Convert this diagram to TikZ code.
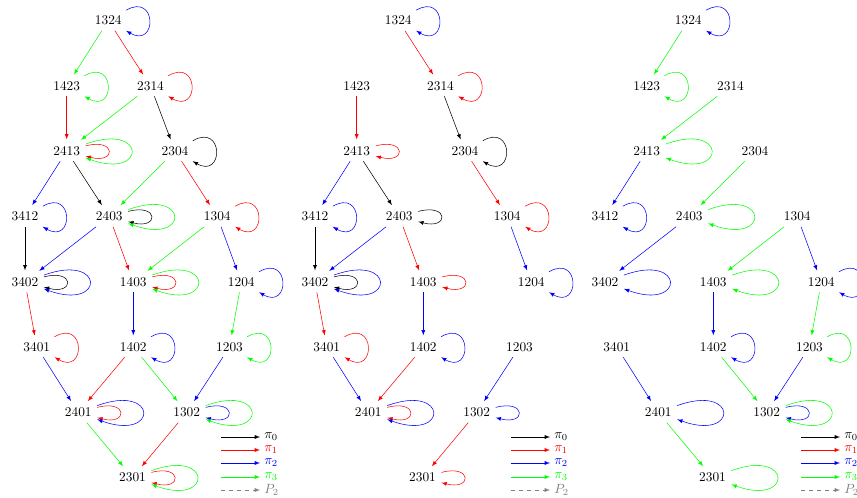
\documentclass[tikz,border=0pt]{standalone}
\usepackage{xcolor}
\usepackage{tikz}

\begin{document}
\begin{tikzpicture}[
  x=0.75pt, y=0.75pt,
  st/.style={inner sep=4pt},
  e/.style={-latex, shorten >=1pt},
  sloop/.style={-latex, out=30, in=-30, min distance=27pt, max distance=27pt},
  iloop/.style={-latex, out=15, in=-15, min distance=24pt, max distance=24pt},
  oloop/.style={-latex, out=20, in=-20, min distance=49pt, max distance=49pt},
  key/.style={anchor=west, inner sep=3pt}
]
\path[use as bounding box, clip] (0,0) rectangle (857,-498);
% states, same places in the three graphs
\foreach \p/\dx in {a/0,b/290,c/580}{
  \node[st] (\p1324) at (108.3+\dx,-20.5) {1324};
  \node[st] (\p1423) at (66.7+\dx,-86) {1423};
  \node[st] (\p2314) at (150.5+\dx,-86) {2314};
  \node[st] (\p2413) at (66.7+\dx,-151) {2413};
  \node[st] (\p2304) at (175+\dx,-151) {2304};
  \node[st] (\p3412) at (25+\dx,-216.5) {3412};
  \node[st] (\p2403) at (109.3+\dx,-216.5) {2403};
  \node[st] (\p1304) at (217.3+\dx,-216.5) {1304};
  \node[st] (\p3402) at (25+\dx,-282) {3402};
  \node[st] (\p1403) at (133.3+\dx,-282) {1403};
  \node[st] (\p1204) at (241.3+\dx,-282) {1204};
  \node[st] (\p3401) at (36.8+\dx,-347) {3401};
  \node[st] (\p1402) at (133.3+\dx,-347) {1402};
  \node[st] (\p1203) at (229.5+\dx,-347) {1203};
  \node[st] (\p2401) at (78.3+\dx,-412.5) {2401};
  \node[st] (\p1302) at (186.7+\dx,-412.5) {1302};
  \node[st] (\p2301) at (132.5+\dx,-477.5) {2301};
  % legend
  \coordinate (\p k0) at (221+\dx,-437);
  \coordinate (\p k1) at (221+\dx,-450);
  \coordinate (\p k2) at (221+\dx,-463);
  \coordinate (\p k3) at (221+\dx,-477);
  \coordinate (\p k4) at (221+\dx,-490);
  \node[key] (\p l0) at (260+\dx,-437) {$\pi_0$};
  \node[key, red] (\p l1) at (260+\dx,-450) {$\pi_1$};
  \node[key, blue] (\p l2) at (260+\dx,-463) {$\pi_2$};
  \node[key, green] (\p l3) at (260+\dx,-477) {$\pi_3$};
  \node[key, gray] (\p l4) at (260+\dx,-490) {$P_2$};
  \draw[-latex] (\p k0) -- (\p l0);
  \draw[-latex, red] (\p k1) -- (\p l1);
  \draw[-latex, blue] (\p k2) -- (\p l2);
  \draw[-latex, green] (\p k3) -- (\p l3);
  \draw[-latex, gray, dashed] (\p k4) -- (\p l4);
}

% first graph
\draw[e, green] (a1324) -- (a1423);
\draw[e, red] (a1324) -- (a2314);
\draw[e, red] (a1423) -- (a2413);
\draw[e, green] (a2314) -- (a2413);
\draw[e] (a2314) -- (a2304);
\draw[e, blue] (a2413) -- (a3412);
\draw[e] (a2413) -- (a2403);
\draw[e, green] (a2304) -- (a2403);
\draw[e, red] (a2304) -- (a1304);
\draw[e] (a3412) -- (a3402);
\draw[e, blue] (a2403) -- (a3402);
\draw[e, red] (a2403) -- (a1403);
\draw[e, green] (a1304) -- (a1403);
\draw[e, blue] (a1304) -- (a1204);
\draw[e, red] (a3402) -- (a3401);
\draw[e, blue] (a1403) -- (a1402);
\draw[e, green] (a1204) -- (a1203);
\draw[e, blue] (a3401) -- (a2401);
\draw[e, red] (a1402) -- (a2401);
\draw[e, green] (a1402) -- (a1302);
\draw[e, blue] (a1203) -- (a1302);
\draw[e, green] (a2401) -- (a2301);
\draw[e, red] (a1302) -- (a2301);
\draw[sloop, blue] (a1324) to (a1324);
\draw[sloop, green] (a1423) to (a1423);
\draw[sloop, red] (a2314) to (a2314);
\draw[sloop] (a2304) to (a2304);
\draw[sloop, blue] (a3412) to (a3412);
\draw[sloop, red] (a1304) to (a1304);
\draw[sloop, blue] (a1204) to (a1204);
\draw[sloop, red] (a3401) to (a3401);
\draw[sloop, blue] (a1402) to (a1402);
\draw[sloop, green] (a1203) to (a1203);
\draw[iloop, red] (a2413) to (a2413);
\draw[oloop, green] (a2413) to (a2413);
\draw[iloop] (a2403) to (a2403);
\draw[oloop, green] (a2403) to (a2403);
\draw[iloop] (a3402) to (a3402);
\draw[oloop, blue] (a3402) to (a3402);
\draw[iloop, red] (a1403) to (a1403);
\draw[oloop, green] (a1403) to (a1403);
\draw[iloop, red] (a2401) to (a2401);
\draw[oloop, blue] (a2401) to (a2401);
\draw[iloop, blue] (a1302) to (a1302);
\draw[oloop, green] (a1302) to (a1302);
\draw[iloop, red] (a2301) to (a2301);
\draw[oloop, green] (a2301) to (a2301);

% second graph
\draw[e, red] (b1324) -- (b2314);
\draw[e, red] (b1423) -- (b2413);
\draw[e] (b2314) -- (b2304);
\draw[e, blue] (b2413) -- (b3412);
\draw[e] (b2413) -- (b2403);
\draw[e, red] (b2304) -- (b1304);
\draw[e] (b3412) -- (b3402);
\draw[e, blue] (b2403) -- (b3402);
\draw[e, red] (b2403) -- (b1403);
\draw[e, blue] (b1304) -- (b1204);
\draw[e, red] (b3402) -- (b3401);
\draw[e, blue] (b1403) -- (b1402);
\draw[e, blue] (b3401) -- (b2401);
\draw[e, red] (b1402) -- (b2401);
\draw[e, blue] (b1203) -- (b1302);
\draw[e, red] (b1302) -- (b2301);
\draw[sloop, blue] (b1324) to (b1324);
\draw[sloop, red] (b2314) to (b2314);
\draw[sloop] (b2304) to (b2304);
\draw[sloop, blue] (b3412) to (b3412);
\draw[sloop, red] (b1304) to (b1304);
\draw[sloop, blue] (b1204) to (b1204);
\draw[sloop, red] (b3401) to (b3401);
\draw[sloop, blue] (b1402) to (b1402);
\draw[iloop, red] (b2413) to (b2413);
\draw[iloop] (b2403) to (b2403);
\draw[iloop] (b3402) to (b3402);
\draw[oloop, blue] (b3402) to (b3402);
\draw[iloop, red] (b1403) to (b1403);
\draw[iloop, red] (b2401) to (b2401);
\draw[oloop, blue] (b2401) to (b2401);
\draw[iloop, blue] (b1302) to (b1302);
\draw[iloop, red] (b2301) to (b2301);

% third graph
\draw[e, green] (c1324) -- (c1423);
\draw[e, green] (c2314) -- (c2413);
\draw[e, blue] (c2413) -- (c3412);
\draw[e, green] (c2304) -- (c2403);
\draw[e, blue] (c2403) -- (c3402);
\draw[e, green] (c1304) -- (c1403);
\draw[e, blue] (c1304) -- (c1204);
\draw[e, blue] (c1403) -- (c1402);
\draw[e, green] (c1204) -- (c1203);
\draw[e, blue] (c3401) -- (c2401);
\draw[e, green] (c1402) -- (c1302);
\draw[e, blue] (c1203) -- (c1302);
\draw[e, green] (c2401) -- (c2301);
\draw[sloop, blue] (c1324) to (c1324);
\draw[sloop, green] (c1423) to (c1423);
\draw[sloop, blue] (c3412) to (c3412);
\draw[sloop, blue] (c1204) to (c1204);
\draw[sloop, blue] (c1402) to (c1402);
\draw[sloop, green] (c1203) to (c1203);
\draw[oloop, green] (c2413) to (c2413);
\draw[oloop, green] (c2403) to (c2403);
\draw[oloop, blue] (c3402) to (c3402);
\draw[oloop, green] (c1403) to (c1403);
\draw[oloop, blue] (c2401) to (c2401);
\draw[iloop, blue] (c1302) to (c1302);
\draw[oloop, green] (c1302) to (c1302);
\draw[oloop, green] (c2301) to (c2301);
\end{tikzpicture}
\end{document}
